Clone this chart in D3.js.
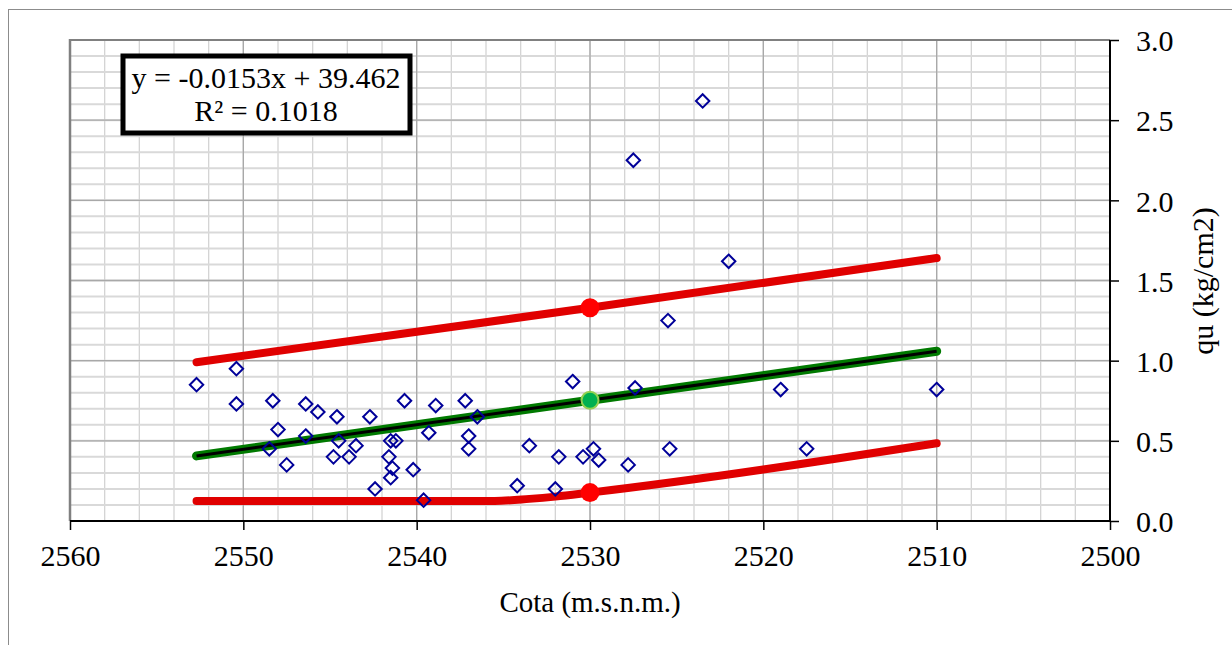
<!doctype html>
<html>
<head>
<meta charset="utf-8"/>
<title>qu vs Cota</title>
<script src="https://d3js.org/d3.v7.min.js"></script>
<style>
body { margin:0; background:#fff; }
text { font-family:"Liberation Serif", serif; fill:#000; }
</style>
</head>
<body>
<script type="text/javascript">
// ensayos: cota (m.s.n.m.) y qu (kg/cm2)
var cota = [2552.7, 2550.4, 2550.4, 2548.3, 2548.0, 2548.5, 2547.5, 2546.4, 2545.7, 2546.4,
            2544.6, 2542.7, 2540.7, 2538.9, 2539.3, 2544.5, 2543.5, 2544.8, 2543.9, 2541.5,
            2541.2, 2541.6, 2541.4, 2541.5, 2540.2, 2542.4, 2539.6, 2537.2, 2536.5, 2537.0,
            2537.0, 2533.5, 2534.2, 2531.8, 2532.0, 2531.0, 2530.4, 2529.8, 2529.5, 2527.8,
            2527.4, 2523.5, 2527.5, 2522.0, 2525.5, 2519.0, 2525.4, 2517.5, 2510.0];
var qu   = [0.85, 0.95, 0.73, 0.75, 0.57, 0.45, 0.35, 0.73, 0.68, 0.53,
            0.65, 0.65, 0.75, 0.72, 0.55, 0.50, 0.47, 0.40, 0.40, 0.50,
            0.50, 0.40, 0.33, 0.27, 0.32, 0.20, 0.13, 0.75, 0.65, 0.53,
            0.45, 0.47, 0.22, 0.40, 0.20, 0.87, 0.40, 0.45, 0.38, 0.35,
            0.83, 2.62, 2.25, 1.62, 1.25, 0.82, 0.45, 0.45, 0.82];

// tendencia y envolventes
var tendX = [2552.7, 2510];
var tendY = [0.406, 1.059];
var supX = [2552.7, 2530, 2510];
var supY = [0.99, 1.33, 1.64];
var infX = [2552.7, 2535.5, 2533.5, 2532, 2530, 2510];
var infY = [0.125, 0.125, 0.138, 0.152, 0.177, 0.485];
// puntos de diseño en cota 2530
var disX = 2530;
var disSup = 1.33, disMed = 0.753, disInf = 0.177;

var xTicks = [2560, 2550, 2540, 2530, 2520, 2510, 2500];
var yTicks = [0.0, 0.5, 1.0, 1.5, 2.0, 2.5, 3.0];

var W = 1232, H = 645;
var L = 70, R = 1110, T = 40, B = 521;

var svg = d3.select("body").append("svg").attr("width", W).attr("height", H);

// borde exterior
svg.append("rect").attr("x", 8.5).attr("y", 9.5).attr("width", W).attr("height", H)
   .attr("fill", "none").attr("stroke", "#8c8c8c").attr("stroke-width", 1);

var x = d3.scaleLinear().domain([2560, 2500]).range([L, R]);
var y = d3.scaleLinear().domain([0, 3]).range([B, T]);

var g = svg.append("g");

// rejilla menor
g.selectAll(".vmin").data(d3.range(2560, 2499, -2)).enter().append("line")
  .attr("x1", d => x(d)).attr("x2", d => x(d)).attr("y1", T).attr("y2", B)
  .attr("stroke", "#d4d4d4").attr("stroke-width", 1.3);
g.selectAll(".hmin").data(d3.range(0, 30).map(d => d / 10)).enter().append("line")
  .attr("x1", L).attr("x2", R).attr("y1", d => y(d)).attr("y2", d => y(d))
  .attr("stroke", "#d9d9d9").attr("stroke-width", 2);
// rejilla mayor
g.selectAll(".vmaj").data(xTicks).enter().append("line")
  .attr("x1", d => x(d)).attr("x2", d => x(d)).attr("y1", T).attr("y2", B)
  .attr("stroke", "#a8a8a8").attr("stroke-width", 1.3);
g.selectAll(".hmaj").data(yTicks).enter().append("line")
  .attr("x1", L).attr("x2", R).attr("y1", d => y(d)).attr("y2", d => y(d))
  .attr("stroke", "#a8a8a8").attr("stroke-width", 1.3);

// bordes del área
g.append("line").attr("x1", L).attr("x2", L).attr("y1", T - 1).attr("y2", B)
  .attr("stroke", "#808080").attr("stroke-width", 2.5);
g.append("line").attr("x1", L).attr("x2", R).attr("y1", T).attr("y2", T)
  .attr("stroke", "#808080").attr("stroke-width", 2);

// ejes
var xAxis = d3.axisBottom(x).tickValues(xTicks).tickSize(9).tickPadding(15).tickFormat(d3.format("d"));
var ax = svg.append("g").attr("transform", "translate(0," + B + ")").call(xAxis);
var yAxis = d3.axisRight(y).tickValues(yTicks).tickSize(9).tickPadding(17).tickFormat(d3.format(".1f"));
var ay = svg.append("g").attr("transform", "translate(" + R + ",0)").call(yAxis);
[ax, ay].forEach(function (a) {
  a.select(".domain").attr("stroke", "#000").attr("stroke-width", 2);
  a.selectAll(".tick line").attr("stroke", "#000").attr("stroke-width", 1.5);
  a.selectAll(".tick text").style("font-family", "Liberation Serif").style("font-size", "30px").attr("fill", "#000");
});
ax.select(".domain").attr("d", "M" + L + ",0H" + R);
ay.select(".domain").attr("d", "M0," + T + "V" + B);
ay.selectAll(".tick text").attr("dy", "0.36em");

// títulos
svg.append("text").attr("x", 590).attr("y", 612).attr("text-anchor", "middle")
  .style("font-size", "29px").text("Cota (m.s.n.m.)");
svg.append("text").attr("transform", "translate(1213,281) rotate(-90)").attr("text-anchor", "middle")
  .style("font-size", "30px").text("qu (kg/cm2)");

// líneas
var line = d3.line().x(d => x(d[0])).y(d => y(d[1]));
var lineC = d3.line().x(d => x(d[0])).y(d => y(d[1])).curve(d3.curveMonotoneX);

svg.append("path").attr("d", line(d3.zip(supX, supY))).attr("fill", "none")
  .attr("stroke", "#e00000").attr("stroke-width", 8).attr("stroke-linecap", "round");
svg.append("path").attr("d", lineC(d3.zip(infX, infY))).attr("fill", "none")
  .attr("stroke", "#e00000").attr("stroke-width", 8).attr("stroke-linecap", "round");
svg.append("path").attr("d", line(d3.zip(tendX, tendY))).attr("fill", "none")
  .attr("stroke", "#007a00").attr("stroke-width", 9).attr("stroke-linecap", "round");
svg.append("path").attr("d", line(d3.zip(tendX, tendY))).attr("fill", "none")
  .attr("stroke", "#000").attr("stroke-width", 3);

// puntos de diseño
svg.append("circle").attr("cx", x(disX)).attr("cy", y(disSup)).attr("r", 9.5).attr("fill", "#ff0000");
svg.append("circle").attr("cx", x(disX)).attr("cy", y(disInf)).attr("r", 9.5).attr("fill", "#ff0000");
svg.append("circle").attr("cx", x(disX)).attr("cy", y(disMed)).attr("r", 8.5)
  .attr("fill", "#00b050").attr("stroke", "#92d050").attr("stroke-width", 2);

// ensayos
var sym = d3.symbol().type(d3.symbolDiamond2).size(115);
svg.selectAll(".pt").data(cota).enter().append("path")
  .attr("transform", (d, i) => "translate(" + x(d) + "," + y(qu[i]) + ")")
  .attr("d", sym).attr("fill", "none").attr("stroke", "#000099").attr("stroke-width", 2);

// ecuación
svg.append("rect").attr("x", 123).attr("y", 56).attr("width", 287).attr("height", 77)
  .attr("fill", "#fff").attr("stroke", "#000").attr("stroke-width", 5);
svg.append("text").attr("x", 266).attr("y", 88).attr("text-anchor", "middle")
  .style("font-size", "30px").text("y = -0.0153x + 39.462");
svg.append("text").attr("x", 266).attr("y", 121).attr("text-anchor", "middle")
  .style("font-size", "30px").text("R² = 0.1018");
</script>
</body>
</html>
